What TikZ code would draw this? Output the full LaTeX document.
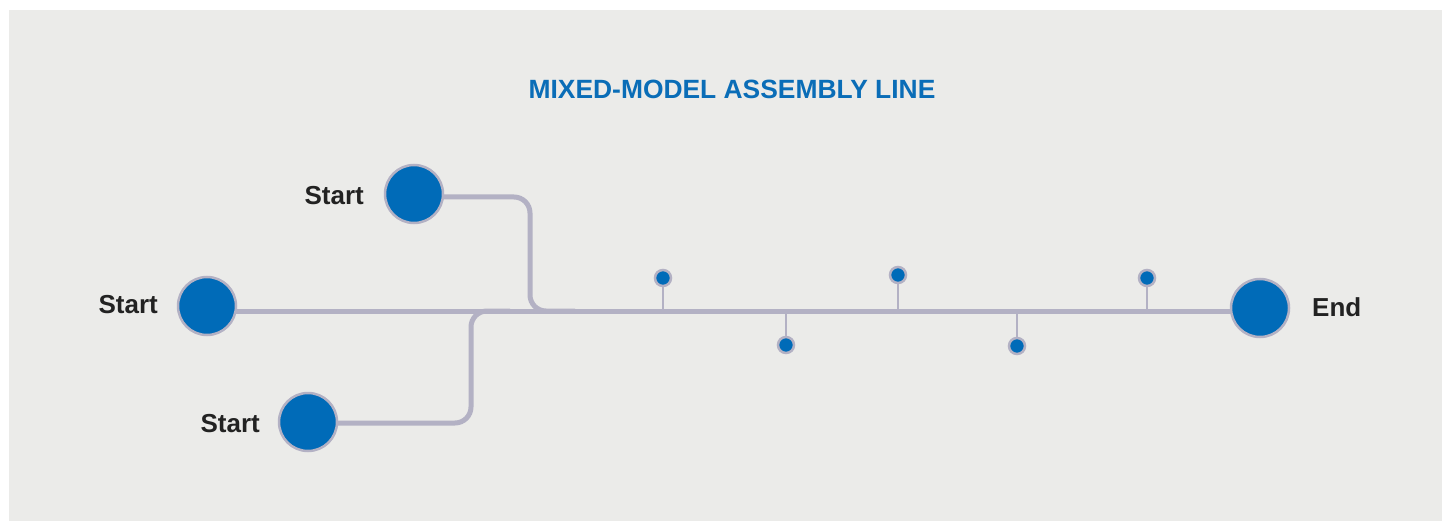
\documentclass[tikz,border=0pt]{standalone}
\usepackage{fontspec}
\setmainfont{Liberation Sans}
\pgfdeclarelayer{bg}
\pgfdeclarelayer{lines}
\pgfsetlayers{bg,lines,main}
\definecolor{panel}{HTML}{EBEBE9}
\definecolor{track}{HTML}{B3B1C4}
\definecolor{station}{HTML}{006BB8}
\definecolor{titleblue}{HTML}{0A6DB7}
\definecolor{labeltext}{HTML}{222222}
\tikzset{
  bigdot/.style={circle, fill=station, draw=track, line width=2.5pt, minimum size=58pt, inner sep=0pt},
  pindot/.style={circle, fill=station, draw=track, line width=2.5pt, minimum size=16pt, inner sep=0pt},
  trackline/.style={draw=track, line width=5pt, rounded corners=16pt},
  stem/.style={draw=track, line width=2.8pt},
  endlabel/.style={text=labeltext, font=\bfseries\fontsize{26}{31}\selectfont, inner sep=0pt},
  titlelabel/.style={text=titleblue, font=\bfseries\fontsize{26.4}{31}\selectfont, inner sep=0pt}
}
\begin{document}
\begin{tikzpicture}[x=1pt, y=-1pt]
  \useasboundingbox (0,0) rectangle (1442,521);
  \begin{pgfonlayer}{bg}
    \fill[panel] (9,10) rectangle (1442,521);
  \end{pgfonlayer}

  % title
  \node[titlelabel] (title) at (732,89) {MIXED-MODEL ASSEMBLY LINE};

  % start and end stations
  \node[bigdot] (s1) at (414,194) {};
  \node[bigdot] (s2) at (207,306) {};
  \node[bigdot] (s3) at (308,422) {};
  \node[bigdot] (fin) at (1260,308) {};

  \node[endlabel, anchor=east] (l1) at (364,196) {Start};
  \node[endlabel, anchor=east] (l2) at (158,305) {Start};
  \node[endlabel, anchor=east] (l3) at (260,424) {Start};
  \node[endlabel, anchor=west] (l4) at (1312,307) {End};

  % workstations along the line
  \node[pindot] (p1) at (663,278) {};
  \node[pindot] (p2) at (786,345) {};
  \node[pindot] (p3) at (898,275) {};
  \node[pindot] (p4) at (1017,346) {};
  \node[pindot] (p5) at (1147,278) {};

  \coordinate (main) at (0,311);
  \coordinate (mergeA) at (575,311);
  \coordinate (mergeB) at (510,311);

  \begin{pgfonlayer}{lines}
    % main line
    \draw[trackline] (s2.center |- main) -- (fin.center |- main);
    % upper feeder
    \draw[trackline] (s1.center |- 0,197) -- (530,197) -- (530,311) -- (mergeA);
    % lower feeder
    \draw[trackline] (s3.center |- 0,423) -- (471,423) -- (471,311) -- (mergeB);
    % stems
    \draw[stem] (p1.center) -- (p1.center |- main);
    \draw[stem] (p2.center) -- (p2.center |- main);
    \draw[stem] (p3.center) -- (p3.center |- main);
    \draw[stem] (p4.center) -- (p4.center |- main);
    \draw[stem] (p5.center) -- (p5.center |- main);
  \end{pgfonlayer}
\end{tikzpicture}
\end{document}
